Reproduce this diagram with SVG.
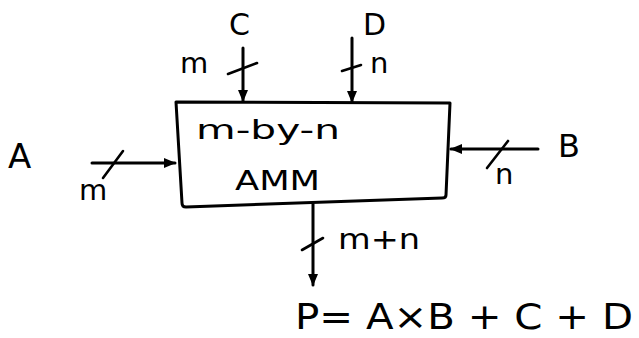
<svg xmlns="http://www.w3.org/2000/svg" width="639" height="338" viewBox="0 0 639 338">
  <style>
    .ln { stroke: #000; stroke-width: 3; fill: none; stroke-linecap: round; stroke-linejoin: round; }
    .tk { stroke: #000; stroke-width: 2.6; fill: none; stroke-linecap: round; }
    .t { font-family: "DejaVu Sans", "Liberation Sans", sans-serif; fill: #000; }
    .w { font-size: 29px; }
  </style>
  <defs>
    <marker id="ah" viewBox="0 0 12 10" refX="11" refY="5" markerWidth="12" markerHeight="10" markerUnits="userSpaceOnUse" orient="auto">
      <path d="M0,0 L12,5 L0,10 Z" fill="#000"/>
    </marker>
  </defs>

  <rect width="639" height="338" fill="#fff"/>

  <!-- multiplier block -->
  <g id="amm">
    <path class="ln" d="M176,102 L450,103 L446,195 Q446,198 442,198 L186,207 Q182,207 182,203 Z"/>
    <text class="t" x="196" y="139" font-size="27" textLength="144" lengthAdjust="spacingAndGlyphs">m-by-n</text>
    <text class="t" x="235" y="190" font-size="27" textLength="85" lengthAdjust="spacingAndGlyphs">AMM</text>
  </g>

  <!-- operand and result labels -->
  <g id="in-a"><text class="t" x="8" y="168" font-size="34">A</text></g>
  <g id="in-b"><text class="t" x="558" y="157" font-size="32">B</text></g>
  <g id="in-c"><text class="t" x="229" y="35" font-size="30">C</text></g>
  <g id="in-d"><text class="t" x="363" y="35" font-size="30">D</text></g>
  <g id="out-p"><text class="t" x="295" y="329" font-size="36" textLength="338" lengthAdjust="spacingAndGlyphs">P= A×B + C + D</text></g>

  <!-- connectors with bus-width ticks -->
  <g id="connectors">
    <line class="ln" x1="92" y1="163" x2="175" y2="163" marker-end="url(#ah)"/>
    <line class="tk" x1="103" y1="178" x2="123" y2="151"/>
    <text class="t w" x="79" y="200">m</text>

    <line class="ln" x1="538" y1="149" x2="451" y2="149" marker-end="url(#ah)"/>
    <line class="tk" x1="487" y1="168" x2="508" y2="141"/>
    <text class="t w" x="495" y="184">n</text>

    <line class="ln" x1="243" y1="48" x2="243" y2="101" marker-end="url(#ah)"/>
    <line class="tk" x1="228" y1="74" x2="257" y2="63"/>
    <text class="t w" x="180" y="73">m</text>

    <line class="ln" x1="352" y1="38" x2="352" y2="102" marker-end="url(#ah)"/>
    <line class="tk" x1="342" y1="71" x2="361" y2="65"/>
    <text class="t w" x="370" y="73">n</text>

    <line class="ln" x1="313" y1="204" x2="313" y2="285" marker-end="url(#ah)"/>
    <line class="tk" x1="302" y1="250" x2="323" y2="238"/>
    <text class="t" x="338" y="249" font-size="29" textLength="82" lengthAdjust="spacingAndGlyphs">m+n</text>
  </g>
</svg>
